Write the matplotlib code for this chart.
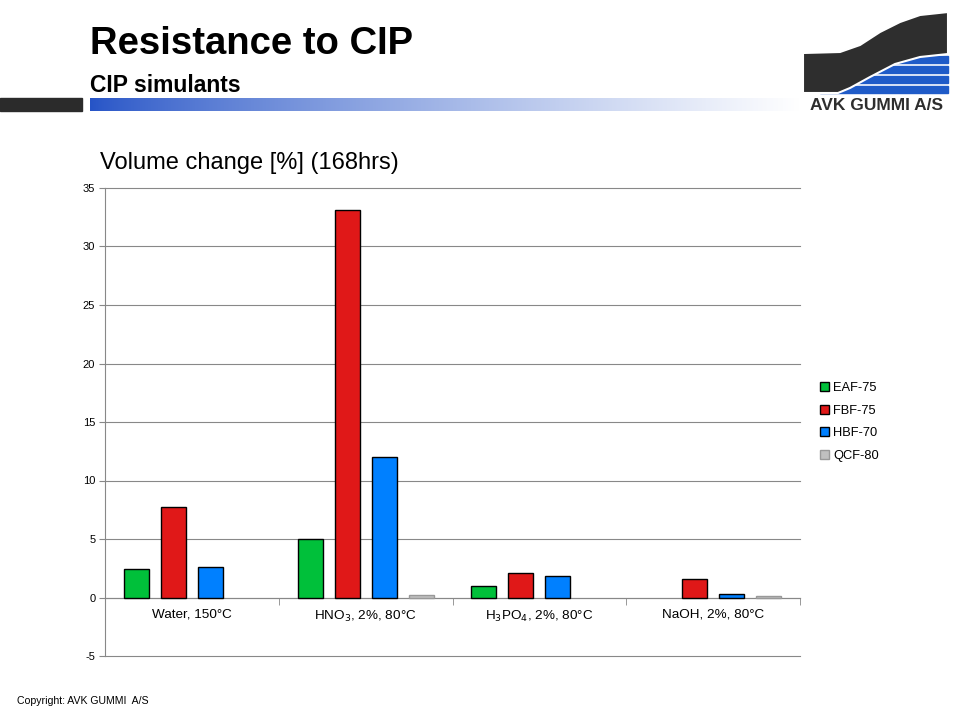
import matplotlib
matplotlib.use('Agg')
import matplotlib.pyplot as plt
import numpy as np
from matplotlib.patches import Rectangle, Polygon

#
# Chart data
categories = ['Water, 150°C', 'HNO$_3$, 2%, 80°C', 'H$_3$PO$_4$, 2%, 80°C', 'NaOH, 2%, 80°C']
series = ['EAF-75', 'FBF-75', 'HBF-70', 'QCF-80']
eaf_75 = [2.4, 5.0, 1.0, 0.0]
fbf_75 = [7.7, 33.1, 2.1, 1.6]
hbf_70 = [2.6, 12.0, 1.85, 0.3]
qcf_80 = [0.0, 0.2, 0.0, 0.1]
y_ticks = [-5, 0, 5, 10, 15, 20, 25, 30, 35]

values = [eaf_75, fbf_75, hbf_70, qcf_80]
colors = ['#00C03A', '#E01818', '#0080FF', '#C0C0C0']
edges = ['black', 'black', 'black', '#999999']

plt.rcParams['font.family'] = ['Liberation Sans', 'DejaVu Sans']
plt.rcParams['axes.unicode_minus'] = False
fig = plt.figure(figsize=(9.6, 7.2), dpi=100)

#
# Slide header
fig.text(90 / 960, 1 - 44 / 720, 'Resistance to CIP', fontsize=27.5, fontweight='bold',
         va='center')
fig.text(90 / 960, 1 - 85 / 720, 'CIP simulants', fontsize=16.5, fontweight='bold',
         va='center')

# header bars
hdr = fig.add_axes([0, 0, 1, 1], zorder=-1)
hdr.set_xlim(0, 960)
hdr.set_ylim(720, 0)
hdr.axis('off')
hdr.add_patch(Rectangle((0, 98), 82, 13, color='#2b2b2b'))
grad = np.linspace(0, 1, 256).reshape(1, -1)
c0 = np.array([0.15, 0.33, 0.78])
c1 = np.array([1.0, 1.0, 1.0])
img = c0 + (c1 - c0) * grad[..., None] ** 0.8
hdr.imshow(img, extent=(90, 800, 111, 98), aspect='auto')

# logo
for yy in [56, 66, 76, 86]:
    hdr.add_patch(Rectangle((820, yy), 128, 6.5, color='#1f5bc8'))
hdr.add_patch(Polygon([(803, 53), (840, 52), (860, 45), (880, 32), (900, 22), (920, 15),
                       (948, 12), (948, 54), (920, 57), (895, 64), (870, 77), (850, 88),
                       (838, 93), (803, 93)],
                      facecolor='#2e2e2e', edgecolor='white', linewidth=1.5))
hdr.text(876, 106, 'AVK GUMMI A/S', fontsize=12.5, fontweight='bold', ha='center', va='center',
         color='#2e2e2e')

fig.text(17 / 960, 1 - 701 / 720, 'Copyright: AVK GUMMI  A/S', fontsize=7.6, va='center')

#
# Chart
ax = fig.add_axes([105 / 960, 64 / 720, 695 / 960, 468 / 720])
x = np.arange(len(categories))
step = 0.213
width = 0.145
for i, (vals, name) in enumerate(zip(values, series)):
    ax.bar(x + (i - 1.5) * step, vals, width, color=colors[i], edgecolor=edges[i],
           linewidth=[1 if v else 0 for v in vals], label=name, zorder=3)

ax.set_xlim(-0.5, len(categories) - 0.5)
ax.set_ylim(-5, 35)
ax.set_yticks(y_ticks)
ax.tick_params(axis='y', labelsize=8, length=4, color='#888888', pad=3)
ax.yaxis.grid(True, color='#888888', linewidth=0.8, zorder=0)
for gl in ax.get_ygridlines():
    gl.set_clip_on(False)

ax.spines['top'].set_visible(False)
ax.spines['right'].set_visible(False)
ax.spines['left'].set_color('#888888')
ax.spines['bottom'].set_position(('data', 0))
ax.spines['bottom'].set_color('#888888')

ax.set_xticks(x)
ax.set_xticklabels(categories, fontsize=9.7)
ax.tick_params(axis='x', which='major', length=0, pad=8)
ax.set_xticks(np.arange(-0.5, len(categories), 1.0), minor=True)
ax.tick_params(axis='x', which='minor', length=5, color='#888888', direction='out')

fig.text(100 / 960, 1 - 163 / 720, 'Volume change [%] (168hrs)', fontsize=17, va='center')

leg = ax.legend(loc='upper left', bbox_to_anchor=(1.012, 0.61), frameon=False, fontsize=9.3,
                handlelength=0.7, handleheight=0.7, handletextpad=0.3, labelspacing=0.82)
for h, ec in zip(leg.legend_handles, edges):
    h.set_linewidth(1)
    h.set_edgecolor(ec)

fig.savefig('out.png', dpi=100)
